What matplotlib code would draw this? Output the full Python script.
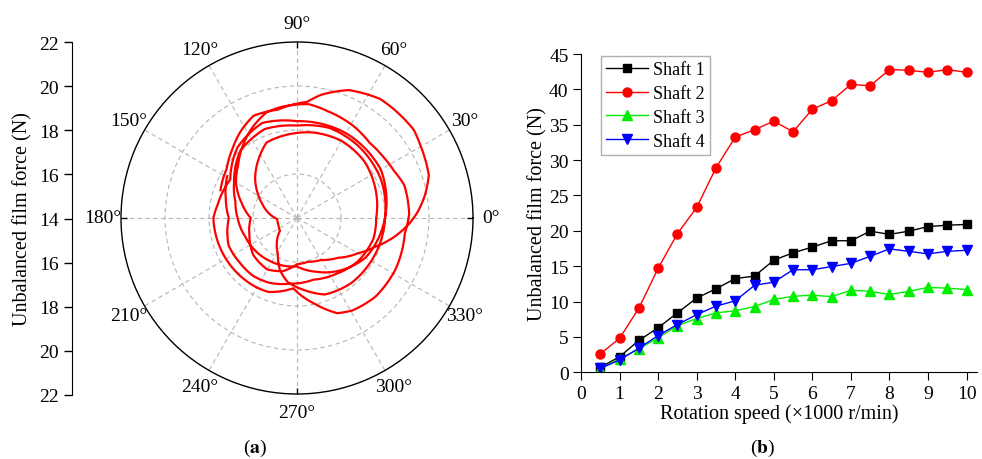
import numpy as np
import matplotlib
matplotlib.use("Agg")
import matplotlib.pyplot as plt

plt.rcParams['font.family'] = ['Liberation Serif', 'DejaVu Serif']
plt.rcParams['mathtext.fontset'] = 'stix'

# ---- (a) polar orbit of the unbalanced film force ----
# angle in degrees (cumulative, anticlockwise) and force magnitude in N
orbit_angle = [149, 165, 180, 202, 218, 233, 247, 264, 285, 305, 325, 345, 360, 380, 400,
               420, 440, 452, 472, 483, 497, 508,
               518, 535, 543, 560, 577, 602, 612, 622, 636, 650, 670, 690, 720, 745, 770,
               790, 810, 830, 850, 870,
               885, 900, 920, 940, 960, 990, 1010, 1030, 1050, 1080, 1110, 1140, 1170, 1190,
               1210, 1230,
               1250, 1260, 1280, 1300, 1320, 1329, 1347, 1362, 1373, 1381, 1395, 1412, 1432,
               1442, 1457, 1466, 1476, 1486, 1498, 1514, 1524, 1538, 1546, 1556, 1567, 1578,
               1590, 1605,
               1620, 1640, 1660, 1680, 1695, 1710, 1724, 1740, 1756, 1770, 1780, 1789, 1797,
               1803, 1810, 1818, 1830, 1837, 1855, 1868, 1879, 1885, 1900, 1913, 1923, 1933,
               1945, 1960]
orbit_force = [17.7, 17.35, 17.1, 17.35, 17.3, 17.3, 17.2, 17.0, 16.9, 17.1, 17.4, 17.6, 17.6,
               17.8, 18.0, 18.05, 17.95, 17.85, 17.7, 17.2, 16.6, 16.1,
               15.7, 15.15, 14.9, 14.9, 14.97, 15.85, 16.5, 16.95, 17.3, 17.7, 17.85, 17.9,
               18.0, 18.2, 18.3, 18.35, 18.2, 18.3, 18.0, 17.3,
               16.9, 16.7, 16.5, 16.4, 16.3, 16.2, 16.6, 17.1, 17.6, 18.0, 18.4, 18.45, 18.4,
               18.6, 18.2, 17.5,
               17.65, 17.8, 17.75, 17.7, 17.65, 17.6, 17.2, 18.0, 18.7, 18.9, 19.05, 19.05,
               18.95, 19.1, 19.1, 18.9, 18.8, 18.75, 18.9, 19.05, 19.2, 19.1, 19.0, 18.6,
               18.1, 17.6, 17.2, 16.6,
               16.1, 16.3, 16.6, 16.7, 16.5, 16.1, 16.05, 16.2, 16.6, 17.2, 17.8, 18.5, 19.1,
               19.5, 19.9, 20.3, 20.5, 20.65, 20.6, 20.27, 19.7, 19.3, 19.0, 19.05, 18.7,
               18.3, 17.9, 17.7]

theta_ticks = [0, 30, 60, 90, 120, 150, 180, 210, 240, 270, 300, 330]
theta_labels = ['0°', '30°', '60°', '90°', '120°', '150°',
                '180°', '210°', '240°', '270°', '300°', '330°']
axis_marks = [0, 90, 180, 270]
radial_grid = [16, 18, 20]
side_ticks = [22, 20, 18, 16, 14, 16, 18, 20, 22]

# ---- (b) force against rotation speed ----
speed = [0.5, 1, 1.5, 2, 2.5, 3, 3.5, 4, 4.5, 5, 5.5, 6, 6.5, 7, 7.5, 8, 8.5, 9, 9.5, 10]
shaft1 = [0.7, 2.2, 4.5, 6.3, 8.4, 10.5, 11.8, 13.25, 13.6, 15.85, 16.9, 17.7, 18.6, 18.6,
          19.95, 19.5, 19.95, 20.6, 20.8, 20.9]
shaft2 = [2.6, 4.8, 9.06, 14.7, 19.6, 23.3, 28.9, 33.25, 34.3, 35.5, 34.0, 37.2, 38.4, 40.7,
          40.5, 42.8, 42.7, 42.4, 42.8, 42.4]
shaft3 = [0.5, 1.9, 3.3, 4.9, 6.6, 7.6, 8.4, 8.7, 9.3, 10.3, 10.75, 10.9, 10.7, 11.6, 11.45,
          11.0, 11.45, 12.0, 11.9, 11.7]
shaft4 = [0.55, 1.75, 3.4, 5.2, 6.75, 8.15, 9.35, 10.1, 12.3, 12.75, 14.5, 14.5, 14.95, 15.4,
          16.4, 17.45, 17.1, 16.75, 17.1, 17.25]

W, H = 982, 460
fig = plt.figure(figsize=(W / 100, H / 100), dpi=100)

# polar panel
axp = fig.add_axes([121 / W, 1 - 395 / H, 352 / W, 352 / H], projection='polar')
orbit_line, = axp.plot(np.deg2rad(orbit_angle), orbit_force, color='#ff0000', lw=1.6,
                       solid_joinstyle='round')
# draw the segments as arcs in polar space rather than straight chords
orbit_line.get_path()._interpolation_steps = 24
axp.set_ylim(14, 22)
axp.set_rticks(radial_grid)
axp.set_yticklabels([])
axp.set_thetagrids(theta_ticks, theta_labels, fontsize=14)
axp.tick_params(axis='x', which='major', length=0, pad=6)
axp.grid(True, color='#b5b5b5', linestyle=(0, (4, 3)), linewidth=0.8)
axp.spines['polar'].set_linewidth(1.0)
# short inward ticks on the rim at the four main directions
axp.vlines(np.deg2rad(axis_marks), 21.72, 22, color='black', lw=1.0, clip_on=False)
axp.set_ylim(14, 22)

# side scale for the polar panel
axs = fig.add_axes([72 / W, 1 - 396 / H, 0.0005, 353 / H])
axs.set_ylim(-8, 8)
axs.set_yticks(np.linspace(8, -8, len(side_ticks)))
axs.set_yticklabels([str(v) for v in side_ticks], fontsize=14)
axs.set_xticks([])
for s in ['top', 'right', 'bottom']:
    axs.spines[s].set_visible(False)
axs.tick_params(axis='y', direction='out', length=6, width=1)
axs.set_ylabel('Unbalanced film force (N)', fontsize=14.5, labelpad=5)
axs.patch.set_visible(False)

fig.text(255 / W, 1 - 448 / H, r'($\mathbf{a}$)', ha='center', va='center', fontsize=14)

# line panel
axr = fig.add_axes([581 / W, 1 - 373.3 / H, (977 - 581) / W, (373.3 - 55) / H])
axr.plot(speed, shaft1, color='black', marker='s', ms=6, lw=1, label='Shaft 1')
axr.plot(speed, shaft2, color='#ff0000', marker='o', ms=6.5, lw=1, label='Shaft 2')
axr.plot(speed, shaft3, color='#00ee00', marker='^', ms=7, lw=1, label='Shaft 3')
axr.plot(speed, shaft4, color='#0000ff', marker='v', ms=7, lw=1, label='Shaft 4')
axr.set_xlim(0, 10.27)
axr.set_ylim(0, 45)
axr.set_xticks(range(0, 11))
axr.set_yticks(range(0, 46, 5))
axr.spines['top'].set_visible(False)
axr.spines['right'].set_visible(False)
axr.tick_params(direction='out', length=6, labelsize=14, pad=3)
axr.set_xlabel('Rotation speed (×1000 r/min)', fontsize=14.5, labelpad=1)
axr.set_ylabel('Unbalanced film force (N)', fontsize=14.5, labelpad=1)
leg = axr.legend(loc='upper left', bbox_to_anchor=(0.05, 0.995), fontsize=13,
                 frameon=True, fancybox=False, edgecolor='#b0b0b0', framealpha=1,
                 handlelength=2.3, borderpad=0.3, labelspacing=0.38, handletextpad=0.3,
                 borderaxespad=0)
leg.get_frame().set_linewidth(1.0)

fig.text(763 / W, 1 - 448 / H, r'($\mathbf{b}$)', ha='center', va='center', fontsize=14)

fig.savefig('out.png', dpi=100, facecolor='white')
